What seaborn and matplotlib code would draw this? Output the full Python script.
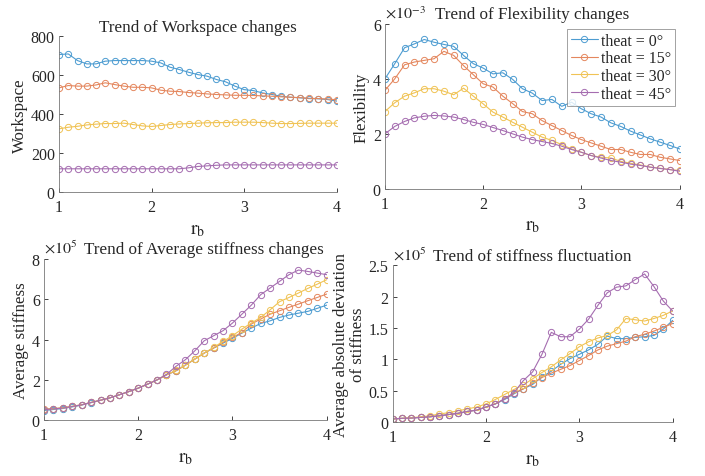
import numpy as np
import pandas as pd
import seaborn as sns
import matplotlib.pyplot as plt
from matplotlib.ticker import FormatStrFormatter

# --- r_b sample points (1.0 .. 4.0, step 0.1)
rb = [round(1 + 0.1 * i, 1) for i in range(31)]
labels = ['theat = 0°', 'theat = 15°', 'theat = 30°', 'theat = 45°']
colors = ['#4d9cd1', '#e4875e', '#f0c355', '#a56db0']

# --- Workspace
ws_0 = [706, 709, 675, 658, 658, 672, 675, 675, 675, 675, 672, 663, 641, 629, 615, 603,
        595, 578, 566, 544, 526, 521, 509, 501, 492, 487, 484, 480, 479, 475, 467]
ws_15 = [535, 547, 544, 544, 550, 561, 552, 544, 538, 538, 535, 523, 518, 516, 511, 508,
         504, 501, 499, 497, 497, 496, 494, 492, 489, 487, 485, 482, 480, 478, 474]
ws_30 = [325, 333, 338, 345, 349, 352, 352, 354, 347, 340, 337, 342, 347, 350, 352, 354,
         356, 357, 357, 359, 359, 359, 357, 354, 352, 352, 353, 354, 354, 354, 354]
ws_45 = [120, 120, 120, 120, 120, 120, 120, 120, 120, 120, 120, 120, 120, 120, 125, 132,
         135, 138, 140, 140, 140, 140, 140, 140, 140, 140, 140, 140, 140, 140, 140]

# --- Flexibility (x 1e-3)
fx_0 = [4.00, 4.55, 5.13, 5.27, 5.43, 5.33, 5.25, 5.18, 4.85, 4.55, 4.39, 4.18, 4.22, 3.98, 3.64, 3.48,
        3.21, 3.25, 3.00, 3.15, 2.91, 2.73, 2.61, 2.40, 2.27, 2.10, 1.96, 1.82, 1.70, 1.58, 1.45]
fx_15 = [3.58, 4.00, 4.51, 4.61, 4.67, 4.73, 5.00, 4.85, 4.48, 4.15, 3.82, 3.70, 3.37, 3.10, 2.81, 2.73,
         2.48, 2.30, 2.12, 1.94, 1.79, 1.67, 1.55, 1.43, 1.43, 1.33, 1.25, 1.25, 1.15, 1.09, 1.03]
fx_30 = [2.81, 3.13, 3.37, 3.49, 3.64, 3.64, 3.55, 3.42, 3.66, 3.37, 3.09, 2.79, 2.61, 2.42, 2.24, 2.06,
         1.88, 1.76, 1.61, 1.45, 1.33, 1.21, 1.15, 1.12, 1.00, 0.93, 0.87, 0.79, 0.75, 0.70, 0.67]
fx_45 = [2.00, 2.27, 2.45, 2.58, 2.64, 2.67, 2.65, 2.61, 2.52, 2.42, 2.34, 2.23, 2.12, 2.00, 1.88, 1.79,
         1.72, 1.65, 1.55, 1.43, 1.33, 1.21, 1.12, 1.03, 0.97, 0.90, 0.85, 0.79, 0.74, 0.70, 0.64]

# --- Average stiffness (x 1e5)
av_0 = [0.48, 0.53, 0.58, 0.66, 0.75, 0.87, 0.99, 1.11, 1.26, 1.42, 1.59, 1.79, 2.00, 2.25, 2.45, 2.73,
        3.03, 3.33, 3.58, 3.82, 4.06, 4.32, 4.57, 4.80, 4.93, 5.10, 5.22, 5.31, 5.40, 5.55, 5.71]
av_15 = [0.55, 0.58, 0.62, 0.69, 0.77, 0.88, 0.99, 1.11, 1.26, 1.42, 1.59, 1.79, 2.00, 2.25, 2.45, 2.73,
         3.03, 3.33, 3.58, 3.86, 4.11, 4.35, 4.77, 5.02, 5.26, 5.43, 5.60, 5.76, 5.93, 6.09, 6.26]
av_30 = [0.52, 0.56, 0.60, 0.68, 0.76, 0.88, 0.99, 1.11, 1.26, 1.42, 1.59, 1.79, 2.00, 2.25, 2.47, 2.73,
         3.03, 3.33, 3.61, 3.91, 4.19, 4.52, 4.82, 5.10, 5.48, 5.88, 6.09, 6.31, 6.54, 6.75, 6.97]
av_45 = [0.52, 0.56, 0.60, 0.68, 0.76, 0.88, 0.99, 1.11, 1.26, 1.42, 1.59, 1.79, 2.00, 2.27, 2.67, 3.00,
         3.44, 3.94, 4.19, 4.44, 4.82, 5.26, 5.71, 6.23, 6.56, 6.89, 7.22, 7.45, 7.38, 7.30, 7.22]

# --- Stiffness fluctuation (x 1e5)
sf_0 = [0.05, 0.06, 0.065, 0.075, 0.085, 0.10, 0.12, 0.14, 0.17, 0.19, 0.24, 0.29, 0.36, 0.45, 0.53, 0.60,
        0.72, 0.81, 0.92, 1.01, 1.08, 1.15, 1.24, 1.37, 1.33, 1.33, 1.35, 1.36, 1.38, 1.48, 1.62]
sf_15 = [0.05, 0.06, 0.065, 0.075, 0.085, 0.10, 0.12, 0.14, 0.17, 0.19, 0.24, 0.29, 0.37, 0.46, 0.53, 0.62,
         0.71, 0.78, 0.84, 0.90, 0.98, 1.06, 1.15, 1.21, 1.25, 1.29, 1.36, 1.40, 1.45, 1.51, 1.57]
sf_30 = [0.05, 0.06, 0.07, 0.085, 0.10, 0.13, 0.15, 0.18, 0.21, 0.24, 0.29, 0.36, 0.44, 0.52, 0.59, 0.69,
         0.79, 0.88, 0.99, 1.09, 1.20, 1.28, 1.34, 1.38, 1.47, 1.65, 1.63, 1.61, 1.65, 1.70, 1.77]
sf_45 = [0.05, 0.06, 0.065, 0.075, 0.085, 0.10, 0.12, 0.14, 0.17, 0.19, 0.24, 0.29, 0.37, 0.47, 0.66, 0.80,
         1.08, 1.43, 1.36, 1.36, 1.48, 1.64, 1.86, 2.06, 2.15, 2.17, 2.27, 2.36, 2.16, 1.93, 1.77]

sns.set_style('ticks')
plt.rcParams['font.family'] = ['Liberation Serif', 'DejaVu Serif']
plt.rcParams['mathtext.fontset'] = 'stix'

fig = plt.figure(figsize=(7.05, 4.77), dpi=100)
ax_tl = fig.add_axes([0.0837, 0.595, 0.394, 0.327])
ax_tr = fig.add_axes([0.546, 0.602, 0.418, 0.346])
ax_bl = fig.add_axes([0.0624, 0.117, 0.401, 0.338])
ax_br = fig.add_axes([0.557, 0.113, 0.397, 0.329])

panels = [
    (ax_tl, [ws_0, ws_15, ws_30, ws_45], 'Workspace', 'Trend of Workspace changes', [0, 200, 400, 600, 800], None, 0.5),
    (ax_tr, [fx_0, fx_15, fx_30, fx_45], 'Flexibility', 'Trend of Flexibility changes', [0, 2, 4, 6], '-3', 0.5),
    (ax_bl, [av_0, av_15, av_30, av_45], 'Average stiffness', 'Trend of Average stiffness changes', [0, 2, 4, 6, 8], '5', 0.565),
    (ax_br, [sf_0, sf_15, sf_30, sf_45], 'Average absolute deviation\nof stiffness', 'Trend of stiffness fluctuation',
     [0, 0.5, 1, 1.5, 2, 2.5], '5', 0.5),
]

for ax, series, ylab, title, yticks, expo, tx in panels:
    df = pd.DataFrame({'rb': rb * 4,
                       'value': sum(series, []),
                       'theta': np.repeat(labels, len(rb))})
    sns.lineplot(data=df, x='rb', y='value', hue='theta', palette=colors, marker='o',
                 markersize=4.5, markerfacecolor='none', markeredgewidth=0.7,
                 linewidth=0.8, ax=ax, legend=(ax is ax_tr))
    for line, c in zip(ax.lines, colors):
        line.set_markeredgecolor(c)
    ax.set_xlim(1, 4)
    ax.set_ylim(yticks[0], yticks[-1])
    ax.set_xticks([1, 2, 3, 4])
    ax.set_yticks(yticks)
    ax.yaxis.set_major_formatter(FormatStrFormatter('%g'))
    ax.tick_params(direction='in', length=3, width=0.6, labelsize=11.5, colors='#262626')
    ax.tick_params(axis='x', pad=5)
    ax.tick_params(axis='y', pad=3)
    for s in ['left', 'bottom']:
        ax.spines[s].set_color('#777777')
        ax.spines[s].set_linewidth(0.6)
    sns.despine(ax=ax)
    ax.set_xlabel(r'$\mathrm{r_b}$', fontsize=14, labelpad=4)
    ax.set_ylabel(ylab, fontsize=12.2, labelpad=2, linespacing=1.05)
    ax.set_title(title, fontsize=12.3, x=tx, pad=4)
    if expo:
        ax.text(0.0, 1.012, r'$\times10^{%s}$' % expo, transform=ax.transAxes,
                fontsize=11.5, ha='left', va='bottom', color='#262626')

leg = ax_tr.legend(loc='upper right', bbox_to_anchor=(0.985, 0.97), borderaxespad=0, fontsize=11.5,
                   frameon=True, fancybox=False, edgecolor='#777777', handlelength=1.7, borderpad=0.25,
                   labelspacing=0.1, handletextpad=0.2)
leg.get_frame().set_linewidth(0.6)
for h, c in zip(leg.get_lines(), colors):
    h.set_markerfacecolor('none')
    h.set_markeredgecolor(c)

fig.savefig('out.png', dpi=100)
